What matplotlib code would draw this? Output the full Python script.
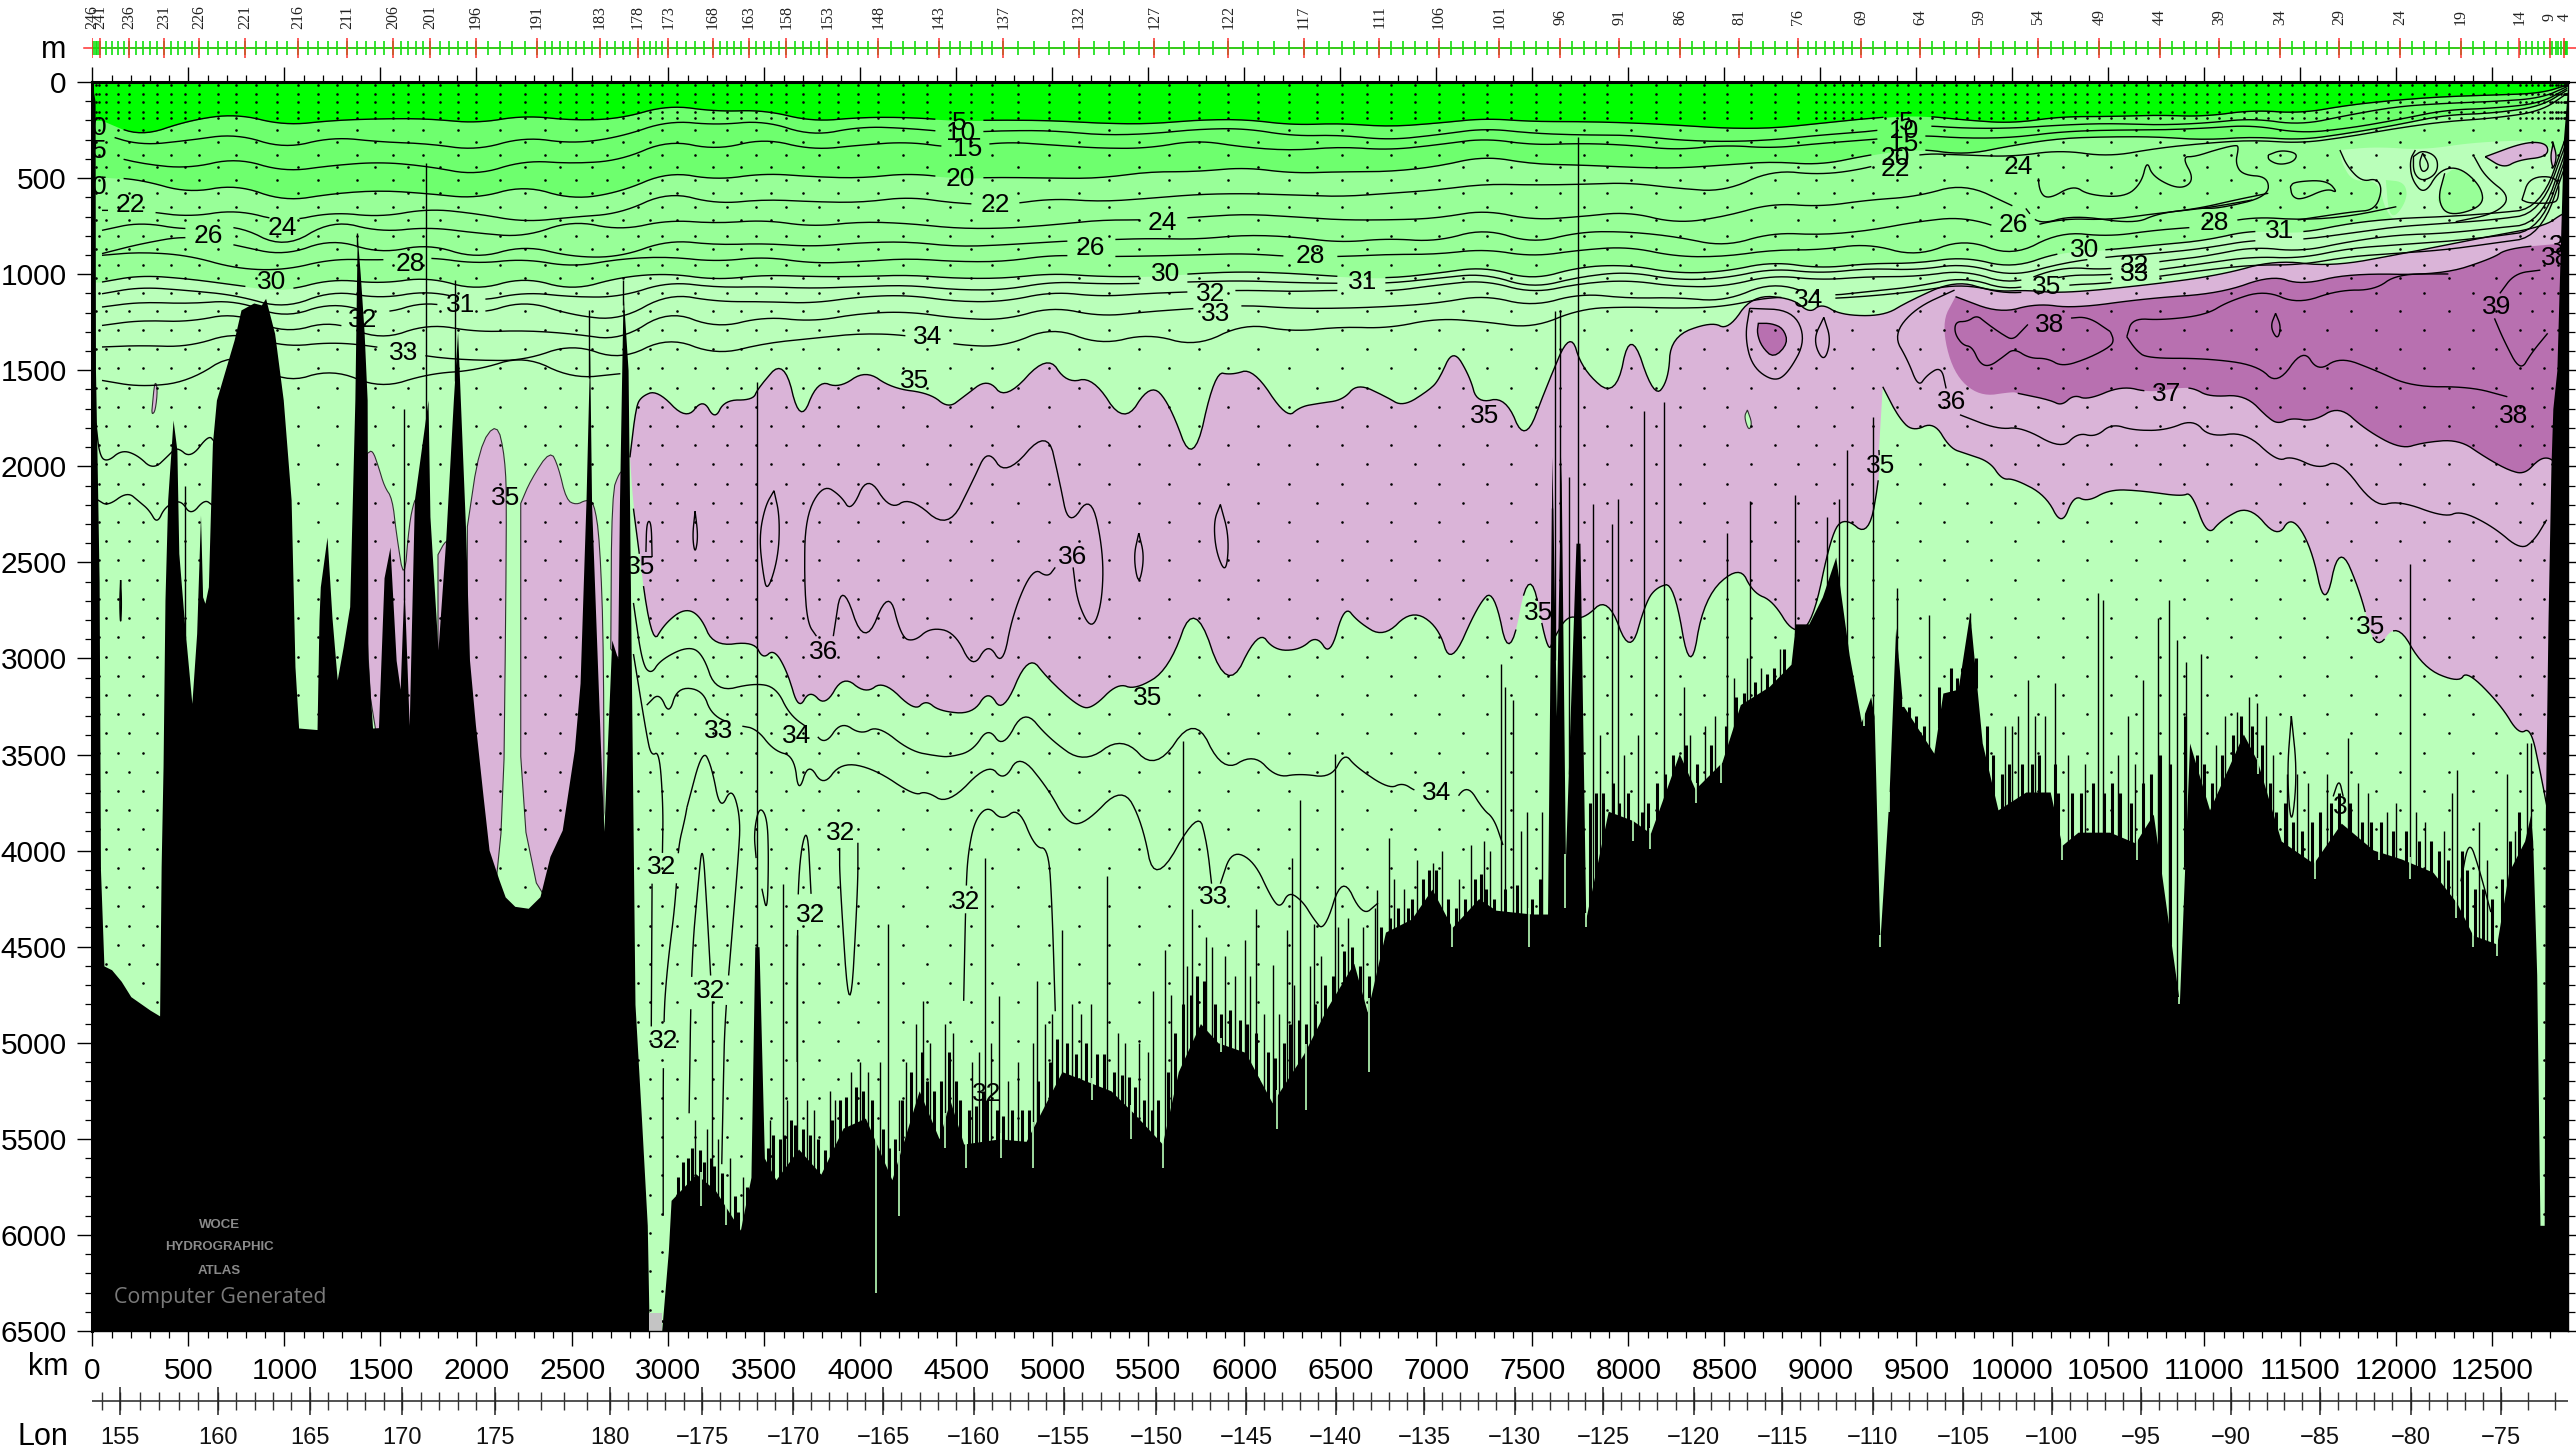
import numpy as np
import matplotlib
matplotlib.use("Agg")
import matplotlib.pyplot as plt

W, H = 2576, 1453
X0, X1, Y0, Y1 = 92.4, 2568, 82, 1331
KM_MAX = 12894

# contour knots, km
km = [50, 250, 500, 750, 1000, 1250, 1500, 1750, 2000, 2250, 2500, 2750,
      3000, 3250, 3500, 3750, 4000, 4250, 4500, 4750, 5000, 5250, 5500, 5750, 6000, 6250,
      6500, 6750, 7000, 7250, 7500, 7750, 8000, 8250, 8500, 8750, 9000, 9250, 9500, 9750, 10000,
      10250, 10500, 10750, 11000, 11250, 11500, 11750, 12000, 12250, 12500, 12750, 12890]

line5 = [200, 285, 200, 165, 226, 200, 191, 191, 215, 174, 200, 191,
         120, 154, 146, 206, 184, 184, 201, 198, 201, 215, 219, 198, 194, 224,
         215, 233, 215, 189, 206, 206, 212, 224, 241, 241, 215, 189, 172, 198, 215,
         180, 180, 172, 180, 146, 163, 120, 94, 76, 68, 59, 16]
line10 = [269, 330, 304, 269, 347, 286, 312, 321, 356, 286, 321, 286,
          201, 224, 201, 281, 232, 241, 264, 253, 253, 276, 271, 246, 241, 281,
          276, 302, 276, 241, 267, 276, 276, 302, 311, 302, 276, 259, 224, 241, 241,
          224, 215, 224, 215, 189, 224, 172, 128, 111, 102, 85, 24]
line15 = [373, 425, 451, 394, 468, 434, 416, 439, 486, 408, 425, 408,
          302, 354, 293, 354, 328, 311, 345, 311, 328, 345, 345, 302, 340, 357,
          337, 354, 328, 293, 328, 319, 328, 354, 328, 345, 319, 302, 276, 293, 290,
          259, 250, 250, 241, 224, 267, 241, 198, 146, 137, 111, 33]
line20 = [495, 508, 578, 533, 621, 581, 564, 581, 607, 538, 612, 573,
          467, 510, 475, 493, 501, 475, 501, 496, 501, 501, 467, 467, 444, 475,
          467, 467, 441, 385, 427, 432, 444, 449, 432, 414, 432, 380, 345, 380, 330,
          293, 285, 285, 302, 285, 302, 267, 224, 172, 163, 128, 42]
line22 = [668, 668, 703, 664, 729, 677, 703, 659, 685, 729, 703, 685,
          571, 635, 611, 623, 628, 597, 632, 640, 606, 623, 606, 585, 580, 588,
          597, 580, 562, 531, 536, 533, 524, 553, 571, 458, 484, 449, 371, 380, 389,
          354, 389, 345, 319, 302, 319, 285, 241, 206, 189, 154, 59]
line24 = [772, 729, 772, 741, 868, 717, 781, 755, 786, 807, 720, 772,
          718, 736, 718, 753, 727, 736, 762, 762, 744, 718, 718, 704, 687, 701,
          718, 718, 710, 666, 718, 701, 675, 736, 701, 631, 649, 614, 597, 527, 644]
line26 = [893, 842, 798, 850, 905, 815, 893, 842, 920, 850, 911, 911,
          822, 848, 840, 857, 836, 831, 857, 848, 831, 822, 814, 819, 796, 805,
          836, 814, 831, 762, 840, 779, 779, 805, 857, 784, 796, 774, 727, 701, 779,
          710, 718, 684, 658, 614]
line28 = [902, 885, 902, 972, 980, 920, 928, 911, 946, 920, 963, 920,
          909, 935, 909, 944, 935, 918, 935, 935, 900, 909, 906, 900, 892, 909,
          909, 897, 897, 869, 909, 874, 857, 909, 909, 874, 874, 840, 909, 814, 909,
          779, 805, 770, 753, 701, 718, 701, 649]
line30 = [1041, 1006, 1024, 1058, 1090, 1024, 1050, 1015, 1085, 1015, 1085, 1015,
          996, 1030, 1004, 1013, 1013, 1004, 1022, 1022, 996, 1013, 1013, 996, 987, 996,
          1013, 1022, 996, 961, 1031, 961, 952, 996, 987, 935, 970, 944, 944, 909, 970,
          883, 874, 848, 826, 770, 788, 736, 710, 701, 684, 658, 267]
line31 = [1102, 1067, 1085, 1110, 1180, 1085, 1128, 1085, 1145, 1093, 1119, 1119,
          1039, 1069, 1065, 1074, 1065, 1057, 1082, 1082, 1039, 1051, 1048, 1039, 1034, 1044,
          1048, 1048, 1022, 996, 1074, 1013, 987, 1031, 1022, 970, 996, 970, 979, 944, 1013,
          944, 909, 892, 866, 822, 822, 788, 753, 736, 718, 684, 302]
line32 = [1171, 1145, 1154, 1136, 1230, 1145, 1214, 1136, 1214, 1136, 1214, 1240,
          1100, 1143, 1143, 1152, 1117, 1109, 1143, 1143, 1091, 1117, 1100, 1091, 1083, 1091,
          1083, 1091, 1057, 1031, 1100, 1048, 1031, 1065, 1065, 1005, 1031, 1013, 1013, 979, 1057,
          961, 979, 935, 909, 857, 883, 831, 796, 788, 762, 736, 337]
line33 = [1267, 1240, 1249, 1200, 1310, 1240, 1345, 1258, 1301, 1293, 1310, 1345,
          1187, 1282, 1221, 1247, 1204, 1195, 1230, 1239, 1169, 1221, 1195, 1178, 1161, 1178,
          1178, 1169, 1152, 1109, 1169, 1100, 1126, 1121, 1143, 1039, 1117, 1091, 1065, 1013, 1091,
          1005, 1005, 979, 944, 909, 918, 866, 848, 831, 805, 770, 371]
line34 = [1379, 1371, 1379, 1300, 1380, 1353, 1379, 1431, 1449, 1449, 1362, 1449,
          1326, 1421, 1360, 1334, 1308, 1317, 1369, 1378, 1274, 1369, 1308, 1378, 1256, 1300,
          1274, 1282, 1230, 1247, 1282, 1180, 1170, 1178, 1170, 1115, 1130, 1115, 1090, 1050, 1110,
          1057, 1048, 1013, 979, 952, 952, 909, 892, 874, 840, 805, 406]
line35w = [1553, 1587, 1561, 1400, 1570, 1492, 1596, 1518, 1501, 1423, 1544, 1518]

# edges of the 35 water
pink_top_km = [2800, 2830, 2856, 2943, 3093, 3180, 3242, 3292, 3441, 3466, 3603, 3686, 3778, 3890, 4027, 4164, 4363, 4458,
               4538, 4663, 4757, 4974, 5074, 5211, 5373, 5510, 5610, 5734, 5846, 5933, 6046, 6220, 6290, 6390, 6514,
               6589, 6739, 6826, 6963, 7013, 7087, 7175, 7212, 7361, 7461, 7573, 7698, 7760, 7935, 8010, 8134, 8209,
               8221, 8433, 8520, 8645, 8857, 8944, 9006, 9106, 9330, 9455, 9704, 9903, 10078, 10260, 10701, 11084,
               11371, 11659, 12041, 12425, 12769, 12865, 12894]
pink_top_m = [1950, 1700, 1638, 1603, 1759, 1647, 1759, 1655, 1655, 1594, 1438, 1785, 1551, 1594, 1499, 1594, 1620, 1698,
              1638, 1542, 1655, 1416, 1568, 1534, 1785, 1568, 1672, 2011, 1507, 1525, 1490, 1751, 1690, 1672, 1655,
              1568, 1638, 1690, 1603, 1551, 1386, 1534, 1672, 1638, 1881, 1586, 1291, 1499, 1647, 1273, 1647, 1551,
              1326, 1247, 1291, 1109, 1126, 1204, 1152, 1213, 1218, 1143, 1031, 1091, 1083, 1100, 1057, 1005,
              926, 961, 892, 814, 753, 684, 684]
pink_east_km = [9325, 9405, 9480, 9592, 9675, 9758, 9883, 9945, 10008, 10174, 10257, 10320, 10392, 10507, 10673, 10881,
                10933, 11016, 11089, 11234, 11380, 11453, 11557, 11629, 11702, 11816, 11889, 12003, 12139, 12326,
                12367, 12544, 12638, 12700, 12752, 12783, 12894]
pink_east_m = [1586, 1742, 1820, 1768, 1906, 1934, 1976, 2069, 2064, 2150, 2313, 2150, 2185, 2120, 2127, 2157,
               2134, 2366, 2278, 2203, 2375, 2255, 2417, 2754, 2398, 2661, 2970, 2807, 3049, 3126,
               3063, 3242, 3397, 3358, 3602, 3765, 3800]
pink_low_km = [2800, 2818, 2911, 2981, 3085, 3167, 3236, 3446, 3492, 3550, 3620, 3678, 3736, 3817, 3910, 4027, 4120, 4282,
               4341, 4410, 4585, 4666, 4743, 4875, 4980, 5143, 5213, 5340, 5433, 5608, 5740, 5910, 6073, 6155, 6289,
               6377, 6447, 6521, 6591, 6726, 6870, 7010, 7075, 7219, 7300, 7382, 7486, 7579, 7614, 7684, 7765, 7893,
               8009, 8091, 8149, 8237, 8323, 8393, 8579, 8649, 8753, 8858, 8960, 9056, 9125, 9253, 9311, 9305]
pink_low_m = [1950, 2220, 2937, 2818, 2738, 2778, 2937, 2911, 3004, 2950, 3070, 3269, 3163, 3250, 3088, 3184, 3115, 3274,
              3216, 3274, 3290, 3163, 3288, 2977, 3110, 3256, 3256, 3128, 3163, 3057, 2685, 3189, 2850, 2958, 2956,
              2879, 2990, 2721, 2809, 2891, 2747, 2833, 3042, 2716, 2640, 3037, 2484, 2979, 2891, 2775, 2798, 2677,
              2990, 2705, 2628, 2607, 3104, 2682, 2514, 2658, 2700, 2872, 2820, 2356, 2263, 2368, 2031, 1915]

# pink pockets west of the dateline
pocket_a_km = [1432, 1459, 1490, 1521, 1562, 1583, 1624, 1650, 1677, 1690, 1690, 1432]
pocket_a_m = [1933, 1915, 2002, 2106, 2167, 2349, 2609, 2300, 2175, 2175, 3500, 3500]
pocket_b_km = [1800, 1840, 1880, 1880, 1800]
pocket_b_m = [2460, 2385, 2385, 3400, 3400]
pocket_c_km = [1953, 2015, 2107, 2149, 2159, 2135, 1950]
pocket_c_m = [2314, 1898, 1768, 1950, 2228, 4300, 4300]
pocket_d_km = [2231, 2283, 2385, 2427, 2468, 2520, 2571, 2612, 2643, 2664, 2664, 2231]
pocket_d_m = [2193, 2071, 1915, 2002, 2175, 2201, 2175, 2184, 2384, 2973, 4300, 4300]
pocket_e_km = [2700, 2705, 2746, 2770, 2770, 2736]
pocket_e_m = [2950, 2141, 2028, 2028, 3000, 3000]
pocket_f_km = [310, 325, 340, 328, 312]
pocket_f_m = [1710, 1550, 1600, 1710, 1730]

# purple core
purple_top_km = [9704, 9935, 10127, 10318, 10701, 11084, 11352, 11505, 11754, 12233, 12501, 12578, 12865, 12894]
purple_top_m = [1117, 1204, 1152, 1178, 1126, 1100, 1005, 1057, 996, 1005, 918, 866, 840, 840]
purple_low_km = [9704, 9630, 9691, 9828, 10002, 10028, 10197, 10257, 10320, 10392, 10569, 10715, 10860, 10943, 11026, 11213,
                 11338, 11390, 11453, 11567, 11702, 11837, 12024, 12139, 12326, 12461, 12586, 12669, 12741, 12793, 12835, 12894]
purple_low_m = [1117, 1256, 1516, 1638, 1612, 1620, 1655, 1685, 1627, 1655, 1581, 1616, 1592, 1592, 1639, 1627,
                1755, 1778, 1748, 1767, 1685, 1808, 1911, 1876, 1860, 1952, 2022, 2041, 1964, 1953, 1987, 1987]
blob_km = [8677, 8745, 8807, 8832, 8757, 8695, 8670, 8677]
blob_m = [1256, 1256, 1282, 1360, 1438, 1378, 1308, 1256]

# eastern lens, 100 to 700 m
lens_km = [11706, 11898, 12137, 12424, 12806, 12864, 12864, 12041, 11945, 11907, 11773, 11716]
lens_m = [354, 337, 354, 311, 302, 475, 753, 753, 684, 510, 519, 424]
core_a_km = [12214, 12252, 12329, 12444, 12453, 12271, 12214]
core_a_m = [614, 475, 441, 545, 649, 701, 614]
core_b_km = [11945, 12041, 12060, 12000, 11960]
core_b_m = [510, 520, 600, 700, 684]
lens_pink_km = [12463, 12673, 12788, 12788, 12635, 12559, 12463]
lens_pink_m = [389, 311, 319, 389, 406, 449, 389]
thin_pink_km = [12817, 12836, 12817, 12802, 12817]
thin_pink_m = [319, 389, 458, 389, 319]
small_green_km = [8620, 8645, 8627, 8603, 8620]
small_green_m = [1707, 1777, 1816, 1742, 1707]

# free contour pieces, km then m
pieces = [
    ([2818, 2864, 2911, 2957, 3097, 3178, 3248, 3446, 3562, 3632, 3748, 3817, 3899, 4003, 4092, 4259, 4399, 4469, 4585, 4666,
      4743, 4852, 4980, 5166, 5364, 5538, 5740, 5887, 6049, 6166, 6289, 6452, 6521, 6580, 6754, 6824, 6893, 7080, 7161, 7242, 7300, 7347],
     [2711, 3030, 3083, 3009, 2937, 2972, 3176, 3128, 3150, 3296, 3375, 3450, 3327, 3397, 3349, 3482, 3508, 3513, 3481, 3357,
      3468, 3261, 3415, 3548, 3402, 3588, 3290, 3593, 3495, 3620, 3599, 3622, 3490, 3564, 3680, 3646, 3692, 3762, 3653, 3785, 3832, 3971]),
    ([2887, 2953, 3004, 3046, 3178, 3225, 3353, 3457, 3550, 3655, 3678, 3729, 3806, 3899, 4073, 4283, 4341, 4457, 4666, 4748,
      4829, 4980, 5073, 5166, 5364, 5468, 5533, 5759, 5805, 5829],
     [3243, 3176, 3296, 3150, 3163, 3296, 3349, 3362, 3481, 3508, 3707, 3540, 3667, 3540, 3574, 3715, 3689, 3760, 3543, 3641,
      3495, 3681, 3853, 3866, 3662, 3853, 4190, 3787, 3959, 4172]),
    ([5875, 5933, 6050, 6143, 6189, 6231, 6305, 6359, 6417, 6510, 6614, 6696], [4172, 3999, 4052, 4252, 4299, 4212, 4265, 4354, 4424, 4122, 4343, 4273]),
    ([2818, 2887, 2911, 2953, 2973, 2969], [2977, 3402, 3508, 3482, 3774, 4012]),
    ([2915, 2911], [4172, 4915]),
    ([3097, 3085, 3050, 3039, 2992, 2973, 2973], [3774, 3840, 3986, 4251, 4623, 4915, 5900]),
    ([3097, 3178, 3225, 3270, 3330, 3376, 3364, 3329, 3294, 3287, 3278], [3774, 3470, 3560, 3795, 3665, 3827, 4039, 4464, 4889, 5180, 5632]),
    ([3108, 3120, 3155, 3178, 3201, 3220], [5367, 4570, 4172, 3946, 4305, 4650]),
    ([3225, 3225], [4770, 5712]),
    ([3457, 3445, 3473, 3515, 3522, 3515, 3487], [4039, 3906, 3768, 3827, 4039, 4331, 4198]),
    ([3671, 3671, 3678, 3724, 3743], [5100, 4570, 4066, 3853, 4225]),
    ([3892, 3892, 3945, 3987, 3987], [3986, 4145, 4942, 4198, 3959]),
    ([4538, 4550, 4561, 4596, 4666, 4736, 4824, 4910, 4980, 4999, 5015], [4782, 4198, 4012, 3840, 3766, 3845, 3774, 3986, 3986, 4304, 4836]),
    ([18, 38, 80, 152, 234, 316, 399, 440, 512, 605, 636], [1776, 1950, 1976, 1915, 1941, 2019, 1941, 1898, 1959, 1837, 1872]),
    ([28, 80, 182, 244, 296, 337, 378, 460, 512, 584, 625], [2175, 2207, 2132, 2184, 2228, 2300, 2210, 2172, 2257, 2172, 2202]),
    ([147, 152, 147, 142, 147], [2592, 2713, 2835, 2713, 2592]),
    ([3139, 3155, 3139, 3125, 3139], [2234, 2366, 2459, 2366, 2234]),
    ([2883, 2887, 2911, 2915], [2446, 2287, 2287, 2472]),
    ([3550, 3580, 3573, 3515, 3492, 3473, 3504, 3550], [2127, 2260, 2472, 2659, 2552, 2366, 2207, 2127]),
    ([3771, 3725, 3708, 3713, 3806, 3899, 3952, 4038, 4155, 4259, 4457, 4588, 4663, 4757, 4974, 5036, 5085, 5201, 5266, 5259, 5206, 5131, 5108],
     [2884, 2818, 2605, 2260, 2093, 2154, 2239, 2042, 2228, 2159, 2332, 2071, 1907, 2054, 1803, 2071, 2319, 2141, 2446, 2711, 2858, 2711, 2526]),
    ([3859, 3904, 4022, 4148, 4213, 4282, 4364, 4492, 4585, 4666, 4741, 4794, 4899, 4975, 5015],
     [2884, 2592, 2950, 2632, 2892, 2911, 2839, 2863, 3057, 2916, 3043, 2765, 2526, 2579, 2526]),
    ([5450, 5480, 5450, 5422, 5450], [2348, 2473, 2627, 2473, 2348]),
    ([5875, 5921, 5905, 5852, 5840, 5875], [2199, 2366, 2565, 2446, 2287, 2199]),
    ([8632, 8857, 8926, 8832, 8757, 8645, 8607, 8632], [1178, 1187, 1343, 1516, 1560, 1482, 1326, 1178]),
    ([9018, 9056, 9018, 8961, 9018], [1225, 1343, 1464, 1343, 1225]),
    ([9699, 9492, 9380, 9455, 9510, 9555, 9630, 9655], [1083, 1178, 1317, 1447, 1589, 1525, 1480, 1595]),
    ([9727, 9924, 10049, 10257, 10340, 10434, 10517, 10631, 10798, 10943, 11026, 11213, 11380, 11453, 11598, 11702, 11889, 12014, 12253, 12336, 12503, 12648, 12721, 12783],
     [1732, 1808, 1795, 1911, 1825, 1848, 1778, 1813, 1813, 1755, 1848, 1820, 1976, 1946, 2015, 1964, 2213, 2178, 2266, 2231, 2313, 2436, 2382, 2278]),
    ([10103, 10053, 10003, 9953, 9866, 9816, 9766, 9704, 9699, 9741, 9791, 9829, 9879, 9953, 10008, 10088, 10184, 10260, 10395, 10510, 10529, 10510],
     [1239, 1291, 1343, 1317, 1256, 1213, 1247, 1247, 1308, 1369, 1378, 1464, 1482, 1430, 1386, 1438, 1438, 1482, 1438, 1378, 1343, 1299]),
    ([10289, 10395, 10510], [1230, 1221, 1299]),
    ([10596, 10624, 10778, 11007, 11122, 11314, 11486, 11697, 11888, 12003, 12271], [1326, 1230, 1239, 1213, 1143, 1083, 1156, 1083, 1083, 999, 999]),
    ([10596, 10644, 10701, 11007, 11276, 11381, 11515, 11591, 11706, 11888, 12080, 12386, 12578], [1326, 1395, 1438, 1438, 1473, 1577, 1386, 1508, 1430, 1499, 1586, 1586, 1638]),
    ([12539, 12616, 12750], [1100, 996, 979]),
    ([12511, 12559, 12645, 12702, 12788], [1230, 1343, 1508, 1412, 1308]),
    ([11371, 11400, 11381, 11343, 11371], [1204, 1274, 1343, 1274, 1204]),
    ([11706, 11745, 11821, 11898, 11927, 11888, 11773, 11486], [354, 441, 519, 501, 562, 666, 675, 718]),
    ([12099, 12070, 12080, 12147, 12223, 12329, 12444, 12453, 12271, 12214, 12252], [354, 406, 510, 588, 458, 441, 545, 649, 701, 614, 475]),
    ([12137, 12175, 12137, 12118, 12137], [371, 441, 475, 423, 371]),
    ([12089, 12137, 12214, 12214, 12137, 12089, 12089], [388, 354, 389, 475, 519, 475, 388]),
    ([12405, 12463, 12597, 12520, 12309], [388, 493, 597, 684, 727]),
    ([12463, 12673, 12788, 12788, 12635, 12559, 12463], [389, 311, 319, 389, 406, 449, 389]),
    ([12817, 12836, 12817, 12802, 12817], [319, 389, 458, 389, 319]),
    ([11333, 11400, 11486, 11467, 11391, 11333, 11333], [380, 354, 371, 415, 432, 406, 380]),
    ([11448, 11467, 11639, 11697, 11639, 11505, 11457, 11448], [545, 519, 510, 579, 553, 614, 597, 545]),
    ([12654, 12693, 12846, 12846, 12808, 12693, 12654], [614, 493, 493, 614, 631, 631, 614]),
    ([10136, 10136, 10184, 10318, 10395, 10586, 10672, 10701, 10730, 10873, 10950, 10883, 10950, 11057, 11161, 11180, 11161, 11199, 11333, 11333, 11084, 10979],
     [423, 562, 614, 536, 588, 600, 527, 406, 493, 562, 510, 389, 389, 354, 328, 337, 423, 484, 493, 597, 657, 657]),
    ([10070, 10136, 10318, 10635, 10758, 10970, 11161, 11333], [658, 744, 692, 739, 684, 658, 614, 579]),
    ([11453, 11484, 11453, 11430, 11453], [3300, 3600, 3900, 3600, 3300]),
    ([12336, 12378, 12430, 12492], [4160, 3938, 4090, 4320]),
    ([11671, 11702, 11723], [3718, 3625, 3718]),
]

# sea floor
bathy_km = [0, 14, 16, 25, 35, 42, 60, 100, 150, 200, 300, 350, 358, 368, 378, 392, 420, 440, 450, 481, 518, 543, 563, 574, 586, 604, 625, 646,
            738, 774, 840, 880, 902, 949, 994, 1035, 1055, 1074, 1170, 1180, 1187, 1222, 1248, 1275, 1306, 1340, 1367, 1379, 1395, 1415, 1431,
            1435, 1459, 1490, 1519, 1550, 1582, 1603, 1623, 1650, 1677, 1748, 1758, 1800, 1840, 1880, 1902, 1943, 1964, 1995, 2035, 2066, 2118,
            2150, 2200, 2270, 2331, 2383, 2447, 2510, 2540, 2571, 2590, 2600, 2644, 2664, 2705, 2736, 2745, 2764, 2790, 2826, 2860, 2890, 2900,
            2965, 3000, 3014, 3144, 3243, 3375, 3430, 3450, 3472, 3500, 3560, 3678, 3794, 3910, 4026, 4164, 4306, 4410, 4467, 4538, 4725, 4863,
            5050, 5305, 5422, 5573, 5656, 5771, 5863, 6005, 6145, 6308, 6430, 6570, 6640, 6735, 6870, 6977, 7082, 7220, 7310, 7498, 7579, 7602,
            7625, 7649, 7672, 7727, 7748, 7778, 7895, 8022, 8115, 8265, 8347, 8487, 8583, 8733, 8847, 8870, 8940, 9010, 9080, 9150, 9213, 9262,
            9280, 9310, 9357, 9392, 9428, 9591, 9638, 9717, 9778, 9843, 9925, 10070, 10197, 10258, 10342, 10507, 10640, 10734, 10870, 10923,
            11027, 11203, 11276, 11400, 11568, 11713, 11880, 12025, 12190, 12315, 12398, 12523, 12585, 12668, 12700, 12710, 12731, 12748, 12770,
            12776, 12790, 12805, 12815, 12836, 12870, 12894]
bathy_m = [20, 100, 1500, 2000, 2600, 4100, 4600, 4620, 4680, 4760, 4830, 4860, 4084, 3563, 2696, 2175, 1759, 1915, 2453, 2835, 3234, 2870, 2254, 2679, 2713, 2627, 1881, 1655,
           1343, 1186, 1150, 1160, 1126, 1308, 1655, 2175, 3043, 3362, 3370, 2800, 2627, 2368, 2790, 3112, 2940, 2730, 1655, 800, 1000, 1300, 1655,
           3000, 3362, 3360, 2580, 2420, 3010, 3160, 2608, 3350, 2175, 1655, 2262, 2956, 2385, 1655, 1300, 2314, 3008, 3347, 3720, 3997, 4153,
           4241, 4290, 4300, 4240, 4030, 3893, 3476, 3128, 2175, 1400, 2200, 3400, 3900, 2904, 3000, 2200, 1100, 1500, 4800, 5400, 5950, 6500,
           6500, 6080, 5820, 5683, 5766, 5975, 5700, 4500, 4500, 5600, 5713, 5553, 5684, 5444, 5392, 5713, 5250, 5500, 5300, 5527, 5500, 5513,
           5150, 5250, 5365, 5527, 5150, 4900, 5000, 5050, 5313, 5060, 4820, 4586, 4840, 4424, 4356, 4200, 4400, 4250, 4310, 4330, 4330, 1950,
           3300, 1950, 4050, 2400, 2400, 4356, 3795, 3843, 3910, 3495, 3680, 3540, 3240, 3146, 3030, 2820, 2820, 2680, 2472, 2982, 3330, 3200,
           3300, 4470, 3725, 2840, 3240, 3493, 3180, 3160, 2763, 3440, 3788, 3695, 3695, 3973, 3904, 3904, 3960, 3810, 4790, 3440,
           3788, 3393, 3535, 3950, 4066, 3857, 3997, 4043, 4112, 4273, 4440, 4486, 4112, 3950, 3810, 3950, 4647, 5950, 5950,
           3800, 2800, 2007, 1700, 1500, 300, 0]

# thin ridges that stand above the floor
spike_km = [147, 481, 1379, 1622, 1738, 1890, 2588, 2764, 3461, 7335, 7358, 7400, 7619, 7642, 7689, 7738, 7816, 7916, 7944, 8079, 8184,
            8516, 8633, 8870, 9032, 9097, 9137, 9272, 3597, 3671, 4143, 4324, 4648, 4724, 4922, 5050, 5282, 5526, 5589, 5682, 5729,
            6003, 6061, 6147, 6224, 6289, 6247, 6363, 6470, 6754, 6689, 6982, 7179, 9400, 9567, 9779, 10080, 10222, 10448, 10473, 10679,
            10756, 10814, 10856, 10902, 10981, 11168, 11276, 11748, 12070, 12315, 12575, 12679, 12700]
spike_top = [4900, 2100, 787, 1700, 420, 1030, 1186, 1030, 1561, 3029, 3146, 3216, 1190, 1190, 2054, 286, 2194, 2298, 2170, 1710, 1667,
             2345, 2182, 2147, 2263, 2170, 1915, 1743, 4172, 4437, 4384, 4782, 4039, 4756, 4676, 4411, 4132, 4729, 4517, 3428, 4305,
             4464, 4305, 4597, 4411, 3734, 4039, 4384, 3495, 3936, 4203, 4064, 3971, 2635, 2775, 2765, 3114, 3126, 2661, 2696, 3114,
             2789, 2696, 2905, 3021, 2975, 3277, 3230, 3416, 2510, 3579, 3602, 3439, 3439]
tooth_km = [3140, 3200, 3260, 3320, 3390, 3530, 3620, 3720, 3760, 3840, 3870, 3950, 4000, 4040, 4100, 4200, 4240, 4290, 4360, 4440,
            4480, 4580, 4620, 4680, 4770, 4820, 4900, 4960, 5000, 5100, 5150, 5200, 5340, 5380, 5450, 5500, 5620, 5700, 5800, 5830,
            5900, 5950, 6030, 6100, 6180, 6260, 6340, 6400, 6490, 6540, 6620, 6680, 6780, 6830, 6900, 7030, 7120, 7250, 7280,
            7440, 7470, 7550, 7600, 7850, 7975, 8050, 8290, 8320, 8400, 8450, 8550, 8620, 8690, 8790,
            9960, 10000, 10030, 10120, 10170, 10290, 10380, 10550, 10600, 10640, 11060, 11110, 11230, 11320, 11360, 11430, 11480,
            11540, 11640, 11800, 11850, 11950, 12000, 12100, 12150, 12250, 12290, 12430, 12470, 12620]
tooth_top = [5400, 5450, 5500, 5600, 5700, 5400, 5300, 5300, 5350, 5250, 5300, 5150, 5100, 5150, 5100, 5300, 5100, 4900, 5000, 4900,
             4950, 5100, 5050, 5000, 5200, 5100, 5000, 4900, 4850, 4800, 4850, 4800, 4950, 5000, 5000, 5050, 4750, 4600, 4450, 4500,
             4550, 4650, 4650, 4850, 4850, 4700, 4600, 4550, 4400, 4350, 4400, 4300, 4150, 4200, 4050, 4000, 4150, 3950, 4000,
             3900, 3800, 3800, 3500, 3400, 3500, 3400, 3150, 3400, 3350, 3300, 3100, 3000, 3050, 2950,
             3350, 3350, 3300, 3300, 3300, 3500, 3550, 3500, 3300, 3550, 3450, 3300, 3200, 3300, 3500, 3600, 3600,
             3650, 3600, 3650, 3700, 3800, 3750, 3800, 3850, 3900, 3700, 3850, 4050, 3900]
# short rough relief along the floor
low_km = [3050, 3075, 3100, 3125, 3165, 3185, 3220, 3240, 3280, 3345, 3365, 3410, 3520, 3545, 3580, 3600, 3640, 3660, 3700, 3735, 3780, 3815,
          3850, 3895, 3925, 3975, 4015, 4060, 4120, 4150, 4180, 4215, 4265, 4320, 4345, 4385, 4420, 4460, 4500, 4520, 4565, 4600, 4640, 4660,
          4710, 4745, 4790, 4840, 4880, 4925, 4985, 5025, 5075, 5125, 5175, 5230, 5270, 5320, 5360, 5400, 5430, 5475, 5520, 5550, 5600, 5640,
          5680, 5720, 5755, 5790, 5845, 5880, 5925, 5975, 6015, 6060, 6125, 6160, 6205, 6240, 6285, 6320, 6370, 6420, 6460, 6520, 6560, 6600,
          6650, 6710, 6760, 6800, 6850, 6875, 6930, 6960, 7000, 7060, 7100, 7150, 7200, 7230, 7260, 7300, 7360, 7420, 7500, 7540,
          7800, 7830, 7870, 7920, 7950, 8000, 8070, 8100, 8150, 8190, 8230, 8300, 8360, 8430, 8510, 8560, 8600, 8660, 8720, 8760, 8810,
          9460, 9500, 9540, 9620, 9680, 9710, 9740, 9810, 9870, 9900, 9945, 9985, 10050, 10100, 10140, 10220, 10240, 10310, 10360, 10420,
          10475, 10520, 10560, 10620, 10680, 10720, 10770, 10820, 10900, 10960, 11000, 11040, 11090, 11150, 11190, 11250, 11300, 11340, 11375,
          11420, 11460, 11510, 11560, 11600, 11660, 11700, 11760, 11820, 11870, 11920, 11980, 12050, 12120, 12180, 12220, 12270, 12340, 12370,
          12410, 12450, 12500, 12550, 12590, 12640]
low_top = [5700, 5620, 5600, 5550, 5560, 5620, 5600, 5640, 5680, 5800, 5880, 5750, 5550, 5480, 5500, 5480, 5400, 5430, 5450, 5480, 5500, 5560,
           5400, 5300, 5280, 5230, 5250, 5300, 5450, 5550, 5500, 5300, 5150, 5050, 5200, 5250, 5200, 5050, 5200, 5300, 5350, 5330, 5250, 5300,
           5350, 5380, 5350, 5350, 5350, 5200, 5100, 4980, 5000, 5060, 5000, 5060, 5060, 5150, 5170, 5180, 5230, 5300, 5350, 5300, 5150, 4950,
           4800, 4750, 4650, 4680, 4800, 4850, 4830, 4880, 4900, 4950, 5050, 5080, 5000, 4900, 4880, 4900, 4800, 4700, 4650, 4520, 4500, 4600,
           4650, 4400, 4350, 4300, 4300, 4250, 4150, 4100, 4100, 4250, 4300, 4250, 4150, 4120, 4200, 4250, 4200, 4180, 4250, 4150,
           3750, 3700, 3700, 3650, 3750, 3700, 3800, 3750, 3650, 3600, 3500, 3450, 3550, 3450, 3350, 3200, 3180, 3120, 3080, 3050, 2950,
           3250, 3300, 3350, 3150, 3050, 3100, 3050, 3000, 3350, 3500, 3600, 3550, 3550, 3550, 3500, 3550, 3700, 3700, 3700, 3650,
           3700, 3650, 3700, 3750, 3650, 3600, 3500, 3550, 3300, 3500, 3550, 3650, 3500, 3400, 3300, 3350, 3450, 3650, 3800,
           3750, 3850, 3900, 3850, 3800, 3750, 3700, 3750, 3850, 3850, 3850, 3900, 3900, 3950, 3950, 4000, 4050, 4000, 4100,
           4200, 4200, 4250, 4150, 3950, 3800]
# narrow trenches cut into the floor
notch_km = [3170, 3300, 4082, 4200, 4550, 4440, 4730, 4900, 5205, 5410, 5575, 5880, 6170, 6320, 6650, 7080, 7480, 7672, 7778, 8022, 8115,
            8350, 8480, 9225, 9310, 9357, 9430, 10260, 10650, 10870, 11280, 11575, 11910, 12070, 12310, 12400, 12525]
notch_m = [5850, 5950, 6300, 5900, 5650, 5550, 5600, 5650, 5300, 5500, 5650, 5050, 5450, 5350, 5150, 4500, 4500, 4300, 4400, 3950, 3990,
           3750, 3650, 3350, 4500, 3800, 3250, 4050, 4050, 4800, 3600, 4150, 4050, 4150, 4350, 4500, 4550]

station_km = [0, 8, 17, 25, 34, 42, 72, 102, 133, 163, 193, 229, 265, 302, 338, 374, 410, 447, 483, 520, 556, 604, 652, 700, 748, 795,
              850, 905, 960, 1015, 1070, 1122, 1173, 1225, 1276, 1328, 1376, 1424, 1471, 1519, 1567, 1606, 1644, 1683, 1721, 1760,
              1808, 1855, 1903, 1950, 1998, 2061, 2124, 2188, 2251, 2314, 2355, 2396, 2437, 2478, 2519, 2560, 2601, 2642,
              2682, 2722, 2762, 2802, 2842, 2874, 2905, 2937, 2968, 3000, 3046, 3092, 3138, 3184, 3230, 3268, 3305, 3343, 3380, 3418,
              3457, 3496, 3536, 3575, 3614, 3657, 3700, 3742, 3785, 3828, 3881, 3934, 3988, 4041, 4094, 4157, 4220, 4284, 4347, 4410,
              4466, 4521, 4577, 4633, 4688, 4744, 4823, 4902, 4980, 5059, 5138, 5217, 5295, 5374, 5452, 5531, 5608, 5685, 5762, 5839, 5916,
              5995, 6073, 6152, 6231, 6310, 6376, 6441, 6507, 6572, 6638, 6703, 6765, 6827, 6888, 6950, 7012, 7075, 7138, 7202, 7265, 7328,
              7391, 7455, 7518, 7582, 7645, 7707, 7768, 7830, 7891, 7953, 8016, 8080, 8143, 8207, 8270, 8332, 8393, 8455, 8516, 8578,
              8640, 8701, 8763, 8824, 8886, 8933, 8979, 9026, 9072, 9119, 9165, 9212, 9274, 9335, 9397, 9458, 9520, 9582, 9643, 9705, 9766, 9828,
              9890, 9951, 10013, 10074, 10136, 10199, 10263, 10326, 10390, 10453, 10516, 10580, 10643, 10706, 10769, 10831, 10892, 10954, 11015, 11077,
              11140, 11204, 11267, 11331, 11394, 11456, 11517, 11579, 11640, 11702, 11765, 11828, 11892, 11955, 12018, 12081, 12145, 12208, 12272, 12335,
              12397, 12458, 12520, 12581, 12643, 12675, 12706, 12736, 12767, 12798, 12813, 12829, 12844, 12860, 12875, 12880, 12885, 12890]
station_labels = [246, 241, 236, 231, 226, 221, 216, 211, 206, 201, 196, 191, 183, 178, 173, 168, 163, 158, 153, 148, 143, 137, 132, 127, 122,
                  117, 111, 106, 101, 96, 91, 86, 81, 76, 69, 64, 59, 54, 49, 44, 39, 34, 29, 24, 19, 14, 9, 4]
station_label_km = [0, 42, 193, 374, 556, 795, 1070, 1328, 1567, 1760, 1998, 2314, 2642, 2842, 3000, 3230, 3418, 3614, 3828, 4094, 4410, 4744,
                    5138, 5531, 5916, 6310, 6703, 7012, 7328, 7645, 7953, 8270, 8578, 8886, 9212, 9520, 9828, 10136, 10453, 10769, 11077, 11394,
                    11702, 12018, 12335, 12641, 12798, 12875]

# sample depths, deep casts every other station with staggered levels
bottles_top = [15, 60, 105, 155, 185]
bottles_a = [250, 380, 510, 650, 800, 950, 1100, 1290, 1490, 1690, 1890, 2090, 2290, 2490, 2690, 2890, 3090, 3290, 3490, 3690, 3890, 4090,
             4290, 4490, 4690, 4890, 5090, 5290, 5490, 5690, 5890, 6090, 6290, 6450]
bottles_b = [310, 440, 580, 720, 870, 1020, 1190, 1390, 1590, 1790, 1990, 2190, 2390, 2590, 2790, 2990, 3190, 3390, 3590, 3790, 3990, 4190,
             4390, 4590, 4790, 4990, 5190, 5390, 5590, 5790, 5990, 6190, 6390]

label_txt = ["0", "5", "0", "22", "26", "24", "28", "30", "31", "32", "33",
             "5", "10", "15", "20", "22", "24", "26", "28", "30", "31", "32", "33", "34", "35",
             "34", "24", "26", "30", "32", "33", "35", "28", "31", "38", "39", "37", "36", "38", "3", "38",
             "5", "10", "15", "20", "22",
             "35", "35", "36", "36", "35", "35", "35", "35", "35", "34", "33", "34", "32", "32", "32", "32", "32", "32", "33", "32", "3"]
label_km = [38, 38, 38, 200, 602, 987, 1655, 936, 1920, 1407, 1621,
            4513, 4522, 4556, 4522, 4701, 5574, 5198, 6344, 5591, 6618, 5822, 5848, 4351, 4282,
            8938, 10032, 10006, 10374, 10639, 10639, 10178, 11050, 11392, 10195, 12523, 10802, 9681, 12609, 12831, 12831,
            9450, 9433, 9433, 9390, 9390,
            2151, 2853, 5103, 3811, 5497, 7251, 7533, 9314, 11864, 7003, 3264, 3666, 2964, 3897, 3743, 3221, 2973, 4547, 5839, 4659, 11710]
label_m = [239, 359, 547, 641, 804, 761, 949, 1043, 1163, 1240, 1411,
           214, 265, 350, 504, 641, 735, 864, 907, 1000, 1043, 1103, 1206, 1325, 1556,
           1137, 444, 744, 872, 958, 1000, 1069, 735, 778, 1266, 1171, 1625, 1667, 1736, 855, 915,
           214, 256, 325, 393, 453,
           2163, 2522, 2471, 2967, 3207, 1736, 2762, 2001, 2838, 3702, 3377, 3403, 4087, 3907, 4335, 4728, 4993, 4266, 4240, 5267, 3771]

lon_labels = ["155", "160", "165", "170", "175", "180", "\u2212175", "\u2212170", "\u2212165", "\u2212160", "\u2212155", "\u2212150", "\u2212145",
              "\u2212140", "\u2212135", "\u2212130", "\u2212125", "\u2212120", "\u2212115", "\u2212110", "\u2212105", "\u2212100", "\u221295",
              "\u221290", "\u221285", "\u221280", "\u221275"]
lon_km = [144, 652, 1133, 1614, 2096, 2695, 3177, 3649, 4120, 4590, 5060, 5540, 6010, 6475, 6937, 7407, 7869, 8340, 8802, 9272, 9743, 10205,
          10668, 11138, 11603, 12074, 12544]
# end points of the longitude scale, km of 154 and of -73
lon_ends = [50, 12825]

plt.rcParams["font.family"] = ["Liberation Sans", "DejaVu Sans"]

C_BRIGHT = "#00ff00"
C_MID = "#6eff6e"
C_PALE = "#98ff98"
C_LIGHT = "#baffba"
C_PINK = "#dab4d8"
C_PURPLE = "#b870b0"
LINE_W = 1.0


def soften(x, y, n=3):
    x = np.asarray(x, dtype=float)
    y = np.asarray(y, dtype=float)
    for _ in range(n):
        x = np.r_[x[0], np.ravel(np.c_[.75 * x[:-1] + .25 * x[1:], .25 * x[:-1] + .75 * x[1:]]), x[-1]]
        y = np.r_[y[0], np.ravel(np.c_[.75 * y[:-1] + .25 * y[1:], .25 * y[:-1] + .75 * y[1:]]), y[-1]]
    return x, y


def draw_line(ax, x, y, z=5):
    # leave a gap where a contour label sits
    sx, sy = soften(x, y)
    sy = sy.copy()
    for k, m in zip(label_km, label_m):
        sy[(np.abs(sx - k) < 110) & (np.abs(sy - m) < 50)] = np.nan
    ax.plot(sx, sy, color="black", lw=LINE_W, zorder=z, solid_capstyle="butt")


def fill_to_surface(ax, d, color, z):
    x, y = soften(km[:len(d)], d)
    ax.fill_between(np.r_[0, x, KM_MAX], 0, np.r_[y[0], y, y[-1]], color=color, lw=0, zorder=z)


fig = plt.figure(figsize=(W / 100, H / 100), dpi=100)
ax = fig.add_axes([X0 / W, 1 - Y1 / H, (X1 - X0) / W, (Y1 - Y0) / H])
ax.set_xlim(0, KM_MAX)
ax.set_ylim(6500, 0)
ax.set_facecolor(C_LIGHT)

fill_to_surface(ax, line30, C_PALE, 1)
fill_to_surface(ax, line20, C_MID, 1.1)
fill_to_surface(ax, line5, C_BRIGHT, 1.2)

# eastern lens
for xs, ys, c in [(lens_km, lens_m, C_LIGHT), (core_a_km, core_a_m, C_PALE), (core_b_km, core_b_m, C_PALE),
                  (lens_pink_km, lens_pink_m, C_PINK), (thin_pink_km, thin_pink_m, C_PINK)]:
    sx, sy = soften(xs + xs[:1], ys + ys[:1])
    ax.fill(sx, sy, color=c, lw=0, zorder=1.5)

# 35 water
top_x, top_y = soften(pink_top_km, pink_top_m)
east_x, east_y = soften(pink_east_km, pink_east_m)
low_x, low_y = soften(pink_low_km, pink_low_m)
ax.fill(np.r_[top_x, east_x[::-1], low_x[::-1]], np.r_[top_y, east_y[::-1], low_y[::-1]], color=C_PINK, lw=0, zorder=2)
ax.plot(top_x, top_y, color="black", lw=LINE_W, zorder=5)
draw_line(ax, pink_east_km[:-1], pink_east_m[:-1])
draw_line(ax, pink_low_km[1:], pink_low_m[1:])

for xs, ys in [(pocket_a_km, pocket_a_m), (pocket_b_km, pocket_b_m), (pocket_c_km, pocket_c_m),
               (pocket_d_km, pocket_d_m), (pocket_e_km, pocket_e_m), (pocket_f_km, pocket_f_m)]:
    sx, sy = soften(xs + xs[:1], ys + ys[:1], 2)
    ax.fill(sx, sy, facecolor=C_PINK, edgecolor="#303030", lw=0.8, zorder=2.1)

# purple core
ptx, pty = soften(purple_top_km, purple_top_m)
plx, ply = soften(purple_low_km, purple_low_m)
ax.fill(np.r_[ptx, plx[::-1]], np.r_[pty, ply[::-1]], color=C_PURPLE, lw=0, zorder=3)
draw_line(ax, purple_top_km[:-1], purple_top_m[:-1])
draw_line(ax, purple_low_km[5:-1], purple_low_m[5:-1])
bx, by = soften(blob_km, blob_m, 2)
ax.fill(bx, by, facecolor=C_PURPLE, edgecolor="black", lw=LINE_W, zorder=3.1)
gx, gy = soften(small_green_km, small_green_m, 2)
ax.fill(gx, gy, facecolor=C_LIGHT, edgecolor="#303030", lw=0.8, zorder=3.1)

for d in [line5, line10, line15, line20, line22, line24, line26, line28, line30, line31, line32, line33, line34, line35w]:
    draw_line(ax, km[:len(d)], d)
for xs, ys in pieces:
    draw_line(ax, xs, ys)

# sample dots
for i, s in enumerate(station_km):
    if i % 2 == 0 or s > 9000:
        ax.scatter([s] * len(bottles_top), bottles_top, s=3.5, color="black", lw=0, zorder=5.5)
    if i % 2 == 0:
        deep = bottles_a if i % 4 == 0 else bottles_b
        ax.scatter([s] * len(deep), deep, s=3.5, color="black", lw=0, zorder=5.5)

# sea floor on top of the water
ax.fill_between(bathy_km, bathy_m, 6500, color="black", lw=0, zorder=6)
ax.vlines(spike_km, spike_top, np.interp(spike_km, bathy_km, bathy_m) + 60, color="black", lw=1.0, zorder=6)
ax.vlines(tooth_km, tooth_top, np.interp(tooth_km, bathy_km, bathy_m) + 60, color="black", lw=1.0, zorder=6)
ax.vlines(low_km, low_top, np.interp(low_km, bathy_km, bathy_m) + 60, color="black", lw=2.2, zorder=6)
ax.vlines(notch_km, np.interp(notch_km, bathy_km, bathy_m) - 30, notch_m, color=C_LIGHT, lw=1.2, zorder=6.5)
ax.fill_between([2900, 2965], 6405, 6500, color="#c4c4c4", lw=0, zorder=6.6)

for t, k, m in zip(label_txt, label_km, label_m):
    ax.text(k, m, t, fontsize=19, ha="center", va="center", color="black", zorder=10, clip_on=True)

# watermark
ax.text(660, 5948, "WOCE", fontsize=9.5, fontweight="bold", color="#8a8a8a", ha="center", va="center", zorder=10)
ax.text(660, 6063, "HYDROGRAPHIC", fontsize=9.5, fontweight="bold", color="#8a8a8a", ha="center", va="center", zorder=10)
ax.text(660, 6188, "ATLAS", fontsize=9.5, fontweight="bold", color="#8a8a8a", ha="center", va="center", zorder=10)
ax.text(115, 6325, "Computer Generated", fontsize=15.4, family="Open Sans", color="#7a7a7a", ha="left", va="center", zorder=10)

# axes
ax.set_xticks(np.arange(0, 12501, 500))
ax.set_xticks(np.arange(0, KM_MAX, 100), minor=True)
ax.set_yticks(np.arange(0, 6501, 500))
ax.set_yticks(np.arange(0, 6501, 100), minor=True)
ax.tick_params(axis="x", which="major", top=True, bottom=True, length=10.5, width=1.0, labelsize=21.5, pad=8, direction="out")
ax.tick_params(axis="x", which="minor", top=True, bottom=True, length=5, width=0.9, direction="out")
ax.tick_params(axis="y", which="major", left=True, right=True, length=10.5, width=1.0, labelsize=21.5, pad=8, direction="out")
ax.tick_params(axis="y", which="minor", left=True, right=True, length=5, width=0.9, direction="out")
for side in ["top", "left"]:
    ax.spines[side].set_linewidth(2.2)
for side in ["bottom", "right"]:
    ax.spines[side].set_linewidth(1.0)
for s in ax.spines.values():
    s.set_zorder(12)

# station strip
strip = fig.add_axes([X0 / W, 1 - 68 / H, (X1 - X0) / W, 40 / H])
strip.set_xlim(0, KM_MAX)
strip.set_ylim(-20, 20)
strip.axis("off")
strip.plot([-45, KM_MAX + 40], [0, 0], color="#ff3030", lw=1.1, clip_on=False, zorder=1)
for a, b in zip(station_km[:-1], station_km[1:]):
    strip.plot([a + 8, b - 8] if b - a > 20 else [a, b], [0, 0], color="#10e010", lw=1.2, zorder=2)
strip.vlines(station_km, -7, 7, color="#10e010", lw=1.2, zorder=3)
strip.vlines(station_label_km, -10, 10, color="#ff3030", lw=1.1, zorder=4)
for s, k in zip(station_labels, station_label_km):
    strip.text(k, 31, str(s), rotation=90, fontsize=11.5, family="Liberation Serif", ha="center", va="center", clip_on=False, color="#222222")

# longitude scale
lon = fig.add_axes([X0 / W, 1 - 1420.7 / H, (X1 - X0) / W, 40 / H])
lon.set_xlim(0, KM_MAX)
lon.set_ylim(-20, 20)
lon.axis("off")
lon.plot([lon_ends[0] - 50, KM_MAX], [0, 0], color="#333333", lw=1.2)
deg_all = np.r_[154, np.arange(155, 286, 5), 287]
km_all = np.r_[lon_ends[0], lon_km, lon_ends[1]]
minor_deg = np.arange(154, 288)
minor_km = np.interp(minor_deg, deg_all, km_all)
lon.vlines(minor_km, -9, 9, color="#333333", lw=1.0)
lon.vlines(lon_km, -14, 14, color="#222222", lw=1.1)
for t, k in zip(lon_labels, lon_km):
    lon.text(k, -37, t, fontsize=17, ha="center", va="center", clip_on=False, color="#111111")

fig.text(54 / W, 1 - 50 / H, "m", fontsize=22, ha="center", va="center")
fig.text(48 / W, 1 - 1367 / H, "km", fontsize=22, ha="center", va="center")
fig.text(43 / W, 1 - 1437 / H, "Lon", fontsize=22, ha="center", va="center")

fig.savefig("out.png", dpi=100, facecolor="white")
